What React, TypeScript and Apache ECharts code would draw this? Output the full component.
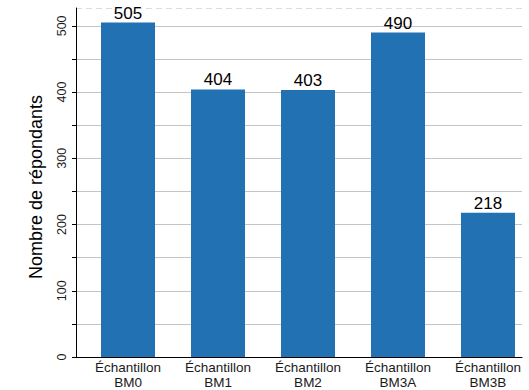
import React, { useEffect, useRef } from "react";
import * as echarts from "echarts";

const categories = ["Échantillon\nBM0", "Échantillon\nBM1", "Échantillon\nBM2", "Échantillon\nBM3A", "Échantillon\nBM3B"];
const values = [505, 404, 403, 490, 218];
const yTicks = [0, 100, 200, 300, 400, 500];
const yTickMarks = [0, 50, 100, 150, 200, 250, 300, 350, 400, 450, 500];
const yTitle = "Nombre de répondants";

const FONT = "Liberation Sans, Arial, sans-serif";

export default function App() {
  const ref = useRef<HTMLDivElement>(null);
  useEffect(() => {
    if (!ref.current) return;
    const chart = echarts.init(ref.current, undefined, { renderer: "svg" });
    const catIdx = categories.map((_, i) => i);
    chart.setOption({
      animation: false,
      textStyle: { fontFamily: FONT },
      grid: { left: 76, right: 7, top: 8, bottom: 33, containLabel: false, outerBoundsMode: "none" },
      xAxis: {
        type: "value",
        min: -0.578,
        max: 4.378,
        axisLine: { show: true, onZero: false, lineStyle: { color: "#000", width: 1 } },
        axisTick: { show: false },
        splitLine: { show: false },
        axisLabel: {
          customValues: catIdx,
          formatter: (v: number) => categories[Math.round(v)] ?? "",
          color: "#1a1a1a",
          fontSize: 13.5,
          lineHeight: 15.2,
          margin: 3,
          fontFamily: FONT,
        },
      },
      yAxis: [
        {
          type: "value",
          position: "left",
          min: 0,
          max: 527,
          interval: 50,
          axisLine: { show: false },
          axisTick: { show: false },
          axisLabel: { show: false },
          splitLine: { show: true, lineStyle: { color: "#dcdcdc", type: [6, 4], width: 1 } },
        },
        {
          type: "value",
          position: "left",
          min: 0,
          max: 527,
          interval: 100,
          name: yTitle,
          nameLocation: "middle",
          nameGap: 31,
          nameTextStyle: { fontSize: 18, color: "#000", fontFamily: FONT, padding: [0, 9, 0, 0] },
          axisLine: { show: true, lineStyle: { color: "#000", width: 1 } },
          axisTick: { show: true, length: 4, lineStyle: { color: "#000" }, customValues: yTickMarks },
          axisLabel: {
            customValues: yTicks,
            rotate: 90,
            fontSize: 12.5,
            color: "#1a1a1a",
            margin: 8,
            fontFamily: FONT,
          },
          splitLine: { show: true, lineStyle: { color: "#c4c4c4", width: 1 } },
        },
      ],
      series: [
        {
          type: "bar",
          yAxisIndex: 1,
          z: 2,
          barWidth: 54,
          data: values.map((v, i) => [i, v]),
          itemStyle: { color: "#2271b3" },
          label: {
            show: true,
            position: "top",
            distance: 1,
            fontSize: 17,
            color: "#000",
            fontFamily: FONT,
            formatter: (p: any) => String(p.value[1]),
          },
        },
      ],
    });
    return () => chart.dispose();
  }, []);
  return <div ref={ref} style={{ width: 529, height: 390, position: "absolute", left: 0, top: 0 }} />;
}
